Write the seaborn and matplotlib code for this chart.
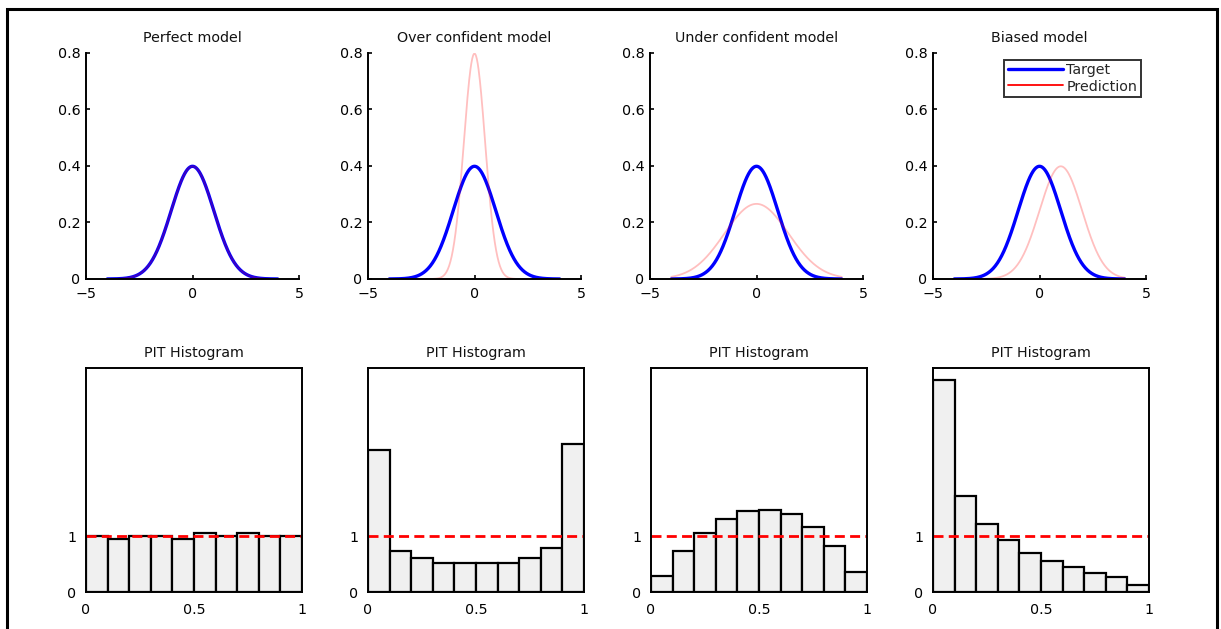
import numpy as np
import pandas as pd
import matplotlib
matplotlib.use("Agg")
import matplotlib.pyplot as plt
from matplotlib.lines import Line2D
from matplotlib.patches import Rectangle
import seaborn as sns

sns.set_theme(style="white")
plt.rcParams['font.family'] = ['DejaVu Sans']

# ---- data ----
titles_top = ["Perfect model", "Over confident model", "Under confident model", "Biased model"]
title_bottom = "PIT Histogram"
target_mean = 0.0
target_std = 1.0
pred_means = [0.0, 0.0, 0.0, 1.0]
pred_stds = [1.0, 0.5, 1.5, 1.0]
x_range = (-4.0, 4.0)

bin_edges = [0.0, 0.1, 0.2, 0.3, 0.4, 0.5, 0.6, 0.7, 0.8, 0.9, 1.0]
hist_perfect = [1.00, 0.94, 1.00, 1.00, 0.95, 1.06, 1.00, 1.06, 1.00, 1.00]
hist_over = [2.53, 0.74, 0.60, 0.51, 0.51, 0.51, 0.51, 0.60, 0.78, 2.65]
hist_under = [0.29, 0.74, 1.06, 1.31, 1.44, 1.47, 1.40, 1.16, 0.82, 0.35]
hist_biased = [3.79, 1.71, 1.22, 0.92, 0.69, 0.56, 0.44, 0.34, 0.26, 0.12]
hists = [hist_perfect, hist_over, hist_under, hist_biased]

top_yticks = [0, 0.2, 0.4, 0.6, 0.8]
top_yticklabels = ["0", "0.2", "0.4", "0.6", "0.8"]
top_xticks = [-5, 0, 5]
top_xticklabels = ["\u22125", "0", "5"]
bot_xticks = [0, 0.5, 1]
bot_xticklabels = ["0", "0.5", "1"]
bot_yticks = [0, 1]

W, H = 1221, 629
fig = plt.figure(figsize=(W / 100, H / 100), dpi=100)

def pdf(x, m, s):
    return np.exp(-0.5 * ((x - m) / s) ** 2) / (s * np.sqrt(2 * np.pi))

xs = np.linspace(x_range[0], x_range[1], 400)

top_lefts = [86, 368, 650, 933]
bot_lefts = [86, 368, 651, 933]
fs = 10.3

for i in range(4):
    # top row
    l = top_lefts[i]
    ax = fig.add_axes([l / W, 1 - 279 / H, 213 / W, (279 - 53) / H])
    df = pd.DataFrame({"x": xs, "target": pdf(xs, target_mean, target_std),
                       "pred": pdf(xs, pred_means[i], pred_stds[i])})
    sns.lineplot(data=df, x="x", y="target", ax=ax, color=(0, 0, 1), lw=2.4)
    sns.lineplot(data=df, x="x", y="pred", ax=ax, color=(1, 0, 0), lw=1.3, alpha=0.25)
    ax.set_xlim(-5, 5)
    ax.set_ylim(0, 0.8)
    ax.set_xticks(top_xticks)
    ax.set_xticklabels(top_xticklabels)
    ax.set_yticks(top_yticks)
    ax.set_yticklabels(top_yticklabels)
    ax.set_xlabel("")
    ax.set_ylabel("")
    for s in ["top", "right"]:
        ax.spines[s].set_visible(False)
    for s in ["left", "bottom"]:
        ax.spines[s].set_color("black")
        ax.spines[s].set_linewidth(1.4)
    ax.tick_params(direction="in", length=3, width=1.2, colors="black",
                   labelsize=fs, left=True, bottom=True)
    ax.tick_params(axis="x", pad=6)
    ax.tick_params(axis="y", pad=4)
    ax.set_title(titles_top[i], fontsize=fs, pad=8, color="#111111")
    ax.patch.set_alpha(0)
    if i == 3:
        handles = [Line2D([0], [0], color=(0, 0, 1), lw=2.4),
                   Line2D([0], [0], color=(1, 0, 0), lw=1.3)]
        leg = ax.legend(handles, ["Target", "Prediction"], loc="upper right",
                        bbox_to_anchor=(0.975, 0.97), fontsize=fs, frameon=True,
                        fancybox=False, handlelength=3.9, handletextpad=0.2,
                        borderpad=0.25, labelspacing=0.15, borderaxespad=0.0)
        leg.get_frame().set_edgecolor("black")
        leg.get_frame().set_linewidth(1.4)

    # bottom row
    l = bot_lefts[i]
    bx = fig.add_axes([l / W, 1 - 592 / H, 216 / W, (592 - 368) / H])
    centers = [(bin_edges[k] + bin_edges[k + 1]) / 2 for k in range(10)]
    hd = pd.DataFrame({"c": centers, "h": hists[i]})
    sns.histplot(data=hd, x="c", weights="h", bins=bin_edges, ax=bx,
                 color="#f0f0f0", edgecolor="black", linewidth=1.6, alpha=1)
    bx.axhline(1, color="red", ls=(0, (3.6, 1.9)), lw=2.0, zorder=5)
    bx.set_xlim(0, 1)
    bx.set_ylim(0, 4)
    bx.set_xticks(bot_xticks)
    bx.set_xticklabels(bot_xticklabels)
    bx.set_yticks(bot_yticks)
    bx.set_yticklabels(["0", "1"])
    bx.set_xlabel("")
    bx.set_ylabel("")
    for s in bx.spines.values():
        s.set_visible(True)
        s.set_color("black")
        s.set_linewidth(1.4)
        s.set_zorder(6)
    bx.tick_params(direction="in", length=0, colors="black", labelsize=fs)
    bx.tick_params(axis="x", pad=8)
    bx.tick_params(axis="y", pad=7)
    bx.set_title(title_bottom, fontsize=fs, pad=8, color="#111111")

# figure border (left, top, right)
fig.add_artist(Rectangle((7 / W, -0.1), (1217 - 7) / W, 1 - 9 / H + 0.1,
                         transform=fig.transFigure, fill=False,
                         edgecolor="black", lw=2.2, clip_on=False))

fig.savefig("out.png", dpi=100)
